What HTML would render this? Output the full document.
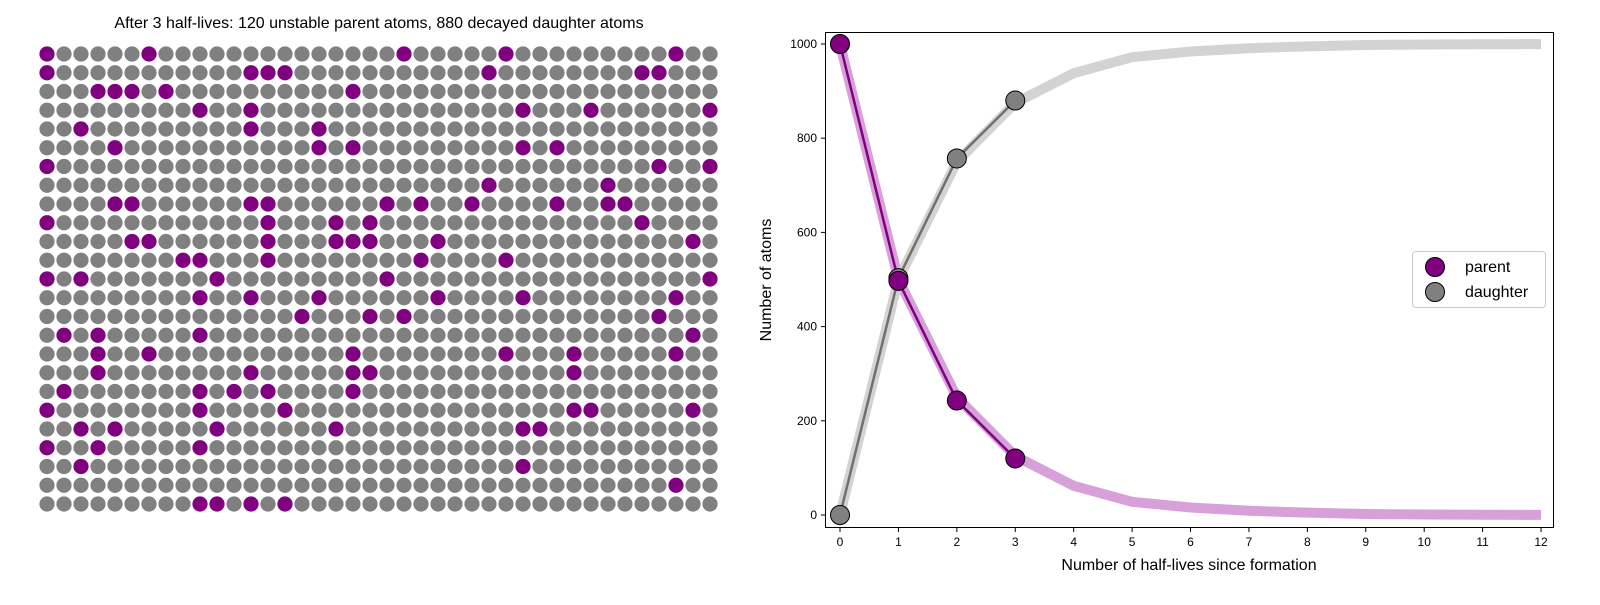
<!DOCTYPE html>
<html><head><meta charset="utf-8"><style>
body{margin:0;background:#fff;font-family:"Liberation Sans",sans-serif}
svg text{font-family:"Liberation Sans",sans-serif}
</style></head><body>
<svg width="1600" height="600">
<text x="379" y="28" font-size="16" text-anchor="middle">After 3 half-lives: 120 unstable parent atoms, 880 decayed daughter atoms</text>
<g id="grid"></g>
<g id="chart"></g>
</svg>
<script>
// Grid data: purple (parent) atoms [row, col]
const parentCells = [[0,0],[0,6],[0,21],[0,27],[0,37],
[1,0],[1,12],[1,13],[1,14],[1,26],[1,35],[1,36],
[2,3],[2,4],[2,5],[2,7],[2,18],
[3,9],[3,12],[3,28],[3,32],[3,39],
[4,2],[4,12],[4,16],
[5,4],[5,16],[5,18],[5,28],[5,30],
[6,0],[6,36],[6,39],
[7,26],[7,33],
[8,4],[8,5],[8,12],[8,13],[8,20],[8,22],[8,25],[8,30],[8,33],[8,34],
[9,0],[9,13],[9,17],[9,19],[9,35],
[10,5],[10,6],[10,13],[10,17],[10,18],[10,19],[10,23],[10,38],
[11,8],[11,9],[11,13],[11,22],[11,27],
[12,0],[12,2],[12,10],[12,20],[12,39],
[13,9],[13,12],[13,16],[13,23],[13,28],[13,37],
[14,15],[14,19],[14,21],[14,36],
[15,1],[15,3],[15,9],[15,38],
[16,3],[16,6],[16,18],[16,27],[16,31],[16,37],
[17,3],[17,12],[17,18],[17,19],[17,31],
[18,1],[18,9],[18,11],[18,13],[18,18],
[19,0],[19,9],[19,14],[19,31],[19,32],[19,38],
[20,2],[20,4],[20,10],[20,17],[20,28],[20,29],
[21,0],[21,3],[21,9],
[22,2],[22,28],
[23,37],
[24,9],[24,10],[24,12],[24,14]];
// Chart data
const steps = [0,1,2,3];
const parentVals = [1000,497,243,120];
const daughterVals = [0,503,757,880];
const theoryT = [0,1,2,3,4,5,6,7,8,9,10,11,12];
const theoryParent = [1000,500,250,125,62,28,16,9,5,2,1,0.5,0.2];
const yTicks = [0,200,400,600,800,1000];
const xTicks = [0,1,2,3,4,5,6,7,8,9,10,11,12];

const NS="http://www.w3.org/2000/svg";
function mk(tag,attrs,parent){const e=document.createElementNS(NS,tag);for(const k in attrs)e.setAttribute(k,attrs[k]);parent.appendChild(e);return e;}
const grid=document.getElementById('grid');
const pset=new Set(parentCells.map(c=>c[0]+','+c[1]));
for(let r=0;r<25;r++)for(let c=0;c<40;c++){
  const isP=pset.has(r+','+c);
  const e=mk('circle',{cx:47+c*17,cy:54+r*18.75,r:7.6,fill:isP?'#800080':'#808080'},grid);
  
  
}
const ch=document.getElementById('chart');
const X=t=>840+t*58.42, Y=v=>515-v*0.471;
const ax=mk('rect',{x:825.5,y:32.5,width:728,height:495,fill:'none',stroke:'#000','stroke-width':1},ch);


yTicks.forEach(v=>{mk('line',{x1:821,x2:825,y1:Y(v),y2:Y(v),stroke:'#000'},ch);
 const t=mk('text',{x:817,y:Y(v)+4,'font-size':12,'text-anchor':'end'},ch);t.textContent=v;
 });
xTicks.forEach(v=>{mk('line',{x1:X(v),x2:X(v),y1:528,y2:532,stroke:'#000'},ch);
 const t=mk('text',{x:X(v),y:546,'font-size':12,'text-anchor':'middle'},ch);t.textContent=v;
 });
let t=mk('text',{x:1189,y:570,'font-size':16,'text-anchor':'middle'},ch);t.textContent='Number of half-lives since formation';

t=mk('text',{x:771,y:280,'font-size':16,'text-anchor':'middle',transform:'rotate(-90 771 280)'},ch);t.textContent='Number of atoms';

// theory bands
const pb=theoryT.map((x,i)=>X(x)+','+Y(theoryParent[i])).join(' ');
const db=theoryT.map((x,i)=>X(x)+','+Y(1000-theoryParent[i])).join(' ');
let e=mk('polyline',{points:pb,fill:'none',stroke:'#d8a0d8','stroke-width':10,'stroke-linejoin':'round'},ch);

e=mk('polyline',{points:db,fill:'none',stroke:'#d3d3d3','stroke-width':10,'stroke-linejoin':'round'},ch);

const pl=steps.map((x,i)=>X(x)+','+Y(parentVals[i])).join(' ');
const dl=steps.map((x,i)=>X(x)+','+Y(daughterVals[i])).join(' ');
e=mk('polyline',{points:pl,fill:'none',stroke:'#800080','stroke-width':2.5},ch);

e=mk('polyline',{points:dl,fill:'none',stroke:'#707070','stroke-width':2.5},ch);

steps.forEach((x,i)=>{
 let c=mk('circle',{cx:X(x),cy:Y(daughterVals[i]),r:9.5,fill:'#808080',stroke:'#000','stroke-width':1},ch);
 
 c=mk('circle',{cx:X(x),cy:Y(parentVals[i]),r:9.5,fill:'#800080',stroke:'#000','stroke-width':1},ch);
 
});
// legend
const lg=mk('g',{},ch);

mk('rect',{x:1412.5,y:251.5,width:133,height:56,rx:3,fill:'#fff',stroke:'#ccc'},lg);
[['parent','#800080',267],['daughter','#808080',292]].forEach(([n,col,y])=>{
 const c=mk('circle',{cx:1435,cy:y,r:9.5,fill:col,stroke:'#000'},lg);
 
 const tx=mk('text',{x:1465,y:y+5,'font-size':16},lg);tx.textContent=n;
 
});
</script>
</body></html>
